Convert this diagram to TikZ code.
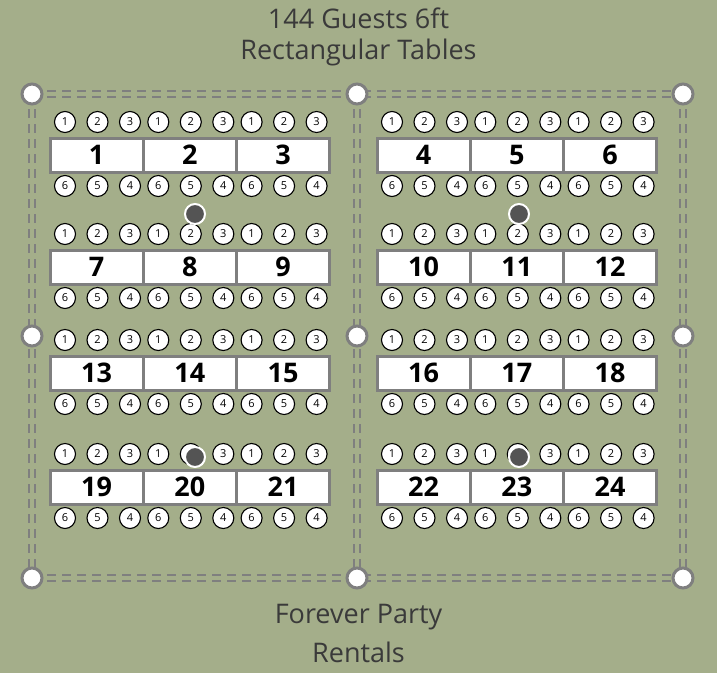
\documentclass[tikz,border=0pt]{standalone}
\usepackage{fontspec}
\setmainfont{Open Sans}
\definecolor{bg}{HTML}{A4AE8A}
\definecolor{ln}{HTML}{7F7F7F}
\definecolor{tx}{HTML}{3A3A3A}
\begin{document}
\begin{tikzpicture}[x=1pt,y=-1pt,
  seat/.style={circle,draw=black,fill=white,line width=1.1pt,minimum size=21pt,inner sep=0pt,font=\fontsize{11}{11}\selectfont},
  tbl/.style={draw=ln,fill=white,line width=3pt,minimum width=93pt,minimum height=34pt,inner sep=0pt,font=\fontsize{27}{27}\selectfont\bfseries},
  corner/.style={circle,draw=ln,fill=white,line width=3pt,minimum size=20pt,inner sep=0pt},
  dot/.style={circle,draw=white,fill=black!67,line width=2pt,minimum size=20pt,inner sep=0pt},
  frame/.style={ln,line width=2.2pt,dash pattern=on 9pt off 6pt},
  title/.style={text=tx,font=\fontsize{27}{27}\selectfont}]
\fill[bg] (0,0) rectangle (717,673);
\useasboundingbox (0,0) rectangle (717,673);
% frame
\foreach \d in {-3,3}{
  \draw[frame] (32,94+\d) -- (683,94+\d);
  \draw[frame] (32,578+\d) -- (683,578+\d);
  \draw[frame] (32+\d,94) -- (32+\d,578);
  \draw[frame] (357+\d,94) -- (357+\d,578);
  \draw[frame] (683+\d,94) -- (683+\d,578);
}
\foreach \x/\y [count=\i] in {32/94,357/94,683/94,32/336,357/336,683/336,32/578,357/578,683/578}
  \node[corner] (c\i) at (\x,\y) {};
% tables
\foreach \r/\cy in {0/155,1/267,2/373,3/487}{
  \foreach \g/\gx in {0/50,1/377}{
    \foreach \t in {0,1,2}{
      \pgfmathtruncatemacro{\num}{\r*6+\g*3+\t+1}
      \pgfmathsetmacro{\lx}{\gx+\t*93.3}
      \node[tbl] (t\num) at (\lx+46.5,\cy) {\num};
      \foreach \s/\tn/\bn in {0/1/6,1/2/5,2/3/4}{
        \node[seat] (t\num s\tn) at (\lx+15+\s*32.5,\cy-33) {\tn};
        \node[seat] (t\num s\bn) at (\lx+15+\s*32.5,\cy+31) {\bn};
      }
    }
  }
}
\node[dot] (d1) at (195,214) {};
\node[dot] (d2) at (519,214) {};
\node[dot] (d3) at (195,457) {};
\node[dot] (d4) at (519,457) {};
\node[title] (h1) at (358.5,18) {144 Guests 6ft};
\node[title] (h2) at (358.5,52) {Rectangular Tables};
\node[title] (f1) at (358.5,617) {Forever Party};
\node[title] (f2) at (358.5,652) {Rentals};
\end{tikzpicture}
\end{document}
